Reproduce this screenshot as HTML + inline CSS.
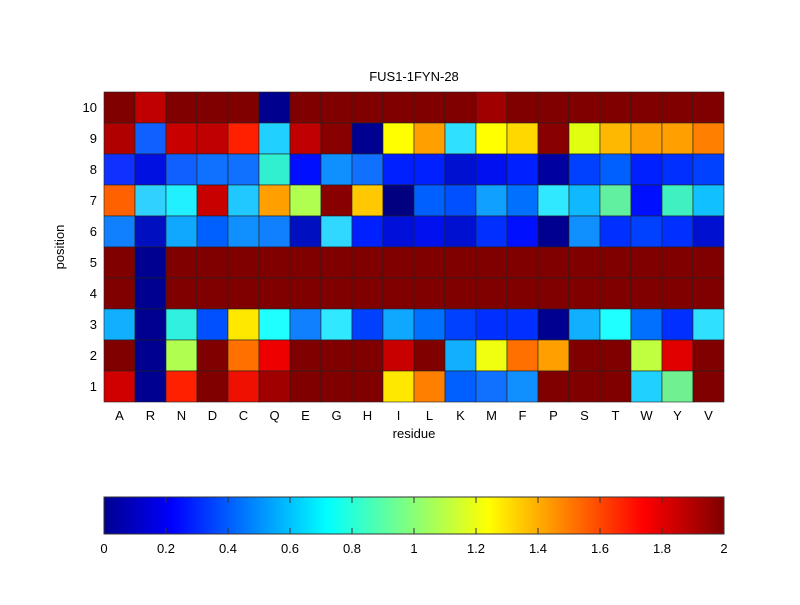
<!DOCTYPE html>
<html><head><meta charset="utf-8"><style>body{margin:0;background:#fff}</style></head><body>
<svg width="800" height="600" xmlns="http://www.w3.org/2000/svg" font-family="Liberation Sans, Arial, sans-serif">
<rect width="800" height="600" fill="#fff"/>
<g id="cells"></g>
<text x="414" y="81" font-size="13" text-anchor="middle">FUS1-1FYN-28</text>
<g id="yl" font-size="13" text-anchor="end"></g>
<g id="xl" font-size="13" text-anchor="middle"></g>
<text x="414" y="438" font-size="13" text-anchor="middle">residue</text>
<text transform="translate(64,247) rotate(-90)" font-size="13" text-anchor="middle">position</text>
<defs><linearGradient id="jet" x1="0" x2="1">
<stop offset="0" stop-color="#00008f"/><stop offset="0.11" stop-color="#0000ff"/><stop offset="0.36" stop-color="#00ffff"/><stop offset="0.62" stop-color="#ffff00"/><stop offset="0.87" stop-color="#ff0000"/><stop offset="1" stop-color="#800000"/></linearGradient></defs>
<rect x="104" y="497" width="620" height="37" fill="url(#jet)" stroke="#333" stroke-width="1"/>
<g id="cb" font-size="13" text-anchor="middle"></g>
</svg>
<script>
const D="#800000",N="#000090";
const rows=[
[D,"#c00000",D,D,D,"#00008f",D,D,D,D,D,D,"#a00000",D,D,D,D,D,D,D],
["#b00000","#1060ff","#c80000","#c00000","#ff2000","#20d0ff","#c00000","#880000","#000090","#ffff00","#ffa000","#30e0ff","#ffff00","#ffd800","#880000","#e0ff10","#ffb800","#ffa000","#ffa000","#ff8000"],
["#1030ff","#0010e0","#1060ff","#1070ff","#1070ff","#30f0d0","#0010ff","#1090ff","#1070ff","#0020ff","#0020ff","#0010d0","#0010f0","#0020ff","#0000a0","#0040ff","#0060ff","#0020ff","#0030ff","#0040ff"],
["#ff6000","#30d0ff","#20f0ff","#c80000","#20c8ff","#ffa000","#b0ff50","#880000","#ffc800","#000080","#0060ff","#0050ff","#10a0ff","#0070ff","#30e8ff","#10b8ff","#60f0a0","#0010ff","#40f0c0","#10c0ff"],
["#1080ff","#0010c0","#10a8ff","#0060ff","#1090ff","#1080ff","#0010c0","#30d8ff","#0020ff","#0010d8","#0010ee","#0010d0","#0030ff","#0010ff","#000090","#1090ff","#0030ff","#0040ff","#0030ff","#0010d0"],
[D,N,D,D,D,D,D,D,D,D,D,D,D,D,D,D,D,D,D,D],
[D,N,D,D,D,D,D,D,D,D,D,D,D,D,D,D,D,D,D,D],
["#10b0ff",N,"#30f0e0","#0050ff","#ffe800","#20ffff","#1080ff","#30e8ff","#0040ff","#10a8ff","#0070ff","#0040ff","#0030ff","#0030ff","#000090","#10b0ff","#20ffff","#0070ff","#0030ff","#30e0ff"],
[D,N,"#b0ff50",D,"#ff7000","#ee0000",D,D,D,"#c80000",D,"#10b0ff","#f0ff10","#ff7000","#ffa000",D,D,"#c0ff40","#e00000",D],
["#d00000",N,"#ff2000",D,"#ee1000","#a00000",D,D,D,"#ffe800","#ff8000","#0060ff","#1070ff","#1090ff",D,D,D,"#20d0ff","#70f090",D]];
const ns="http://www.w3.org/2000/svg";
function el(t,a,p,txt){const e=document.createElementNS(ns,t);for(const k in a)e.setAttribute(k,a[k]);if(txt!=null)e.textContent=txt;document.getElementById(p).appendChild(e);}
rows.forEach((r,i)=>r.forEach((c,j)=>el("rect",{x:104+j*31,y:92+i*31,width:31,height:31,fill:c,stroke:"#222","stroke-width":0.6},"cells")));
for(let i=0;i<10;i++)el("text",{x:97,y:92+i*31+20},"yl",String(10-i));
"ARNDCQEGHILKMFPSTWYV".split("").forEach((c,j)=>el("text",{x:104+j*31+15.5,y:420},"xl",c));
for(let k=0;k<=10;k++){const x=104+k*62;el("text",{x:x,y:553},"cb",String(+(k*0.2).toFixed(1)));
if(k>0&&k<10){el("line",{x1:x,y1:497,x2:x,y2:503,stroke:"#333"},"cb");el("line",{x1:x,y1:528,x2:x,y2:534,stroke:"#333"},"cb");}}
</script>
</body></html>
